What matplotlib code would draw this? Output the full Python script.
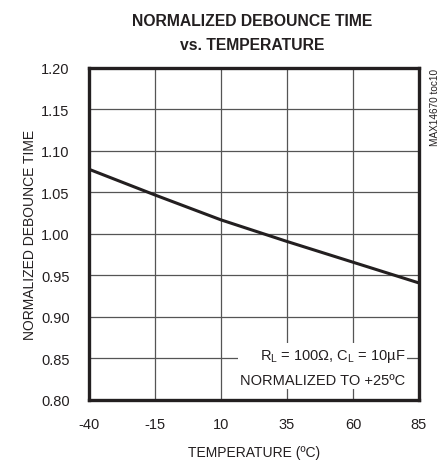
import matplotlib
matplotlib.use("Agg")
import matplotlib.pyplot as plt
import numpy as np

plt.rcParams['font.family'] = ['Liberation Sans', 'DejaVu Sans']

temp = [-40, -15, 10, 35, 60, 85]
debounce = [1.078, 1.047, 1.017, 0.991, 0.966, 0.941]
xTicks = [-40, -15, 10, 35, 60, 85]
yTicks = [0.80, 0.85, 0.90, 0.95, 1.00, 1.05, 1.10, 1.15, 1.20]

fig = plt.figure(figsize=(4.41, 4.64), dpi=100, facecolor='white')
ax = fig.add_axes([0.2018, 0.1358, 0.7483, 0.7155])

ax.plot(temp, debounce, color='#231f20', linewidth=2.2, zorder=3)

ax.set_xlim(-40, 85)
ax.set_ylim(0.80, 1.20)
ax.set_xticks(xTicks)
ax.set_xticklabels([str(t) for t in xTicks])
ax.set_yticks(yTicks)
ax.set_yticklabels([f"{v:.2f}" for v in yTicks])
ax.tick_params(axis='x', length=0, labelsize=10.5, pad=12, colors='#231f20')
ax.tick_params(axis='y', length=0, labelsize=10.5, pad=14, colors='#231f20')
ax.grid(True, color='#555555', linewidth=0.9)
for s in ax.spines.values():
   s.set_linewidth(2.4)
   s.set_color('#231f20')

ax.set_xlabel("TEMPERATURE (ºC)", fontsize=10, labelpad=10, color='#231f20')
ax.set_ylabel("NORMALIZED DEBOUNCE TIME", fontsize=10, labelpad=3, color='#231f20')

fig.text(0.571, 0.928, "NORMALIZED DEBOUNCE TIME\nvs. TEMPERATURE",
   ha='center', va='center', fontsize=11.3, fontweight='bold',
   linespacing=1.8, color='#231f20')

ax.text(0.958, 0.04, "R$_\\mathregular{L}$ = 100Ω, C$_\\mathregular{L}$ = 10µF\nNORMALIZED TO +25ºC",
   transform=ax.transAxes, ha='right', va='bottom', fontsize=10.5,
   linespacing=1.75, color='#231f20', zorder=4,
   bbox=dict(facecolor='white', edgecolor='none', pad=1.5))

fig.text(0.986, 0.851, "MAX14670 toc10", rotation=90, ha='center', va='top',
   fontsize=7.2, color='#231f20')

fig.savefig('out.png', dpi=100)
